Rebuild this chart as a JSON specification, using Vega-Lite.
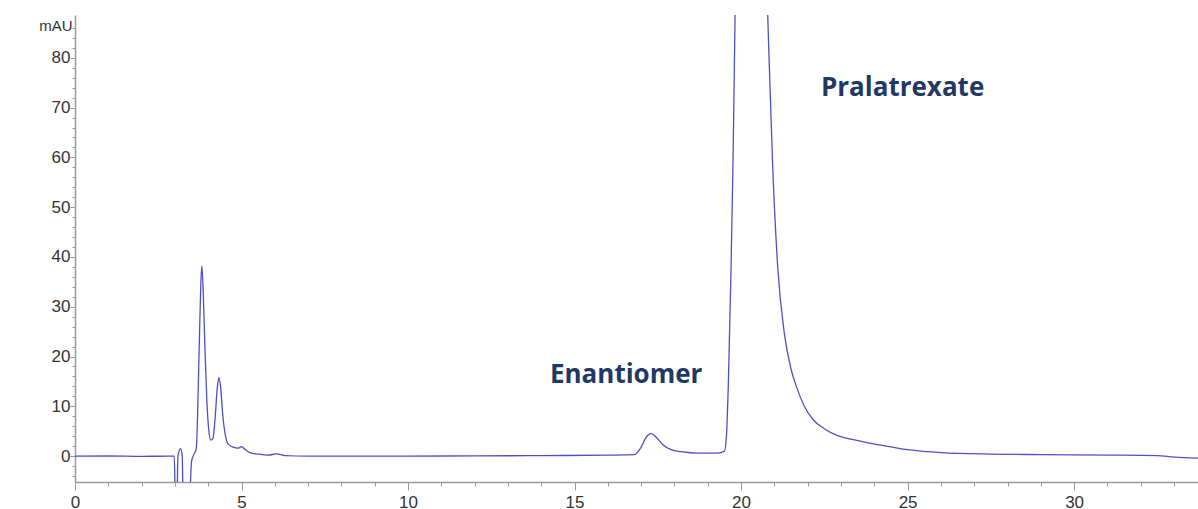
{
  "$schema": "https://vega.github.io/schema/vega-lite/v6.json",
  "width": 1123,
  "height": 467,
  "autosize": {"type": "none"},
  "padding": {"left": 75, "top": 15, "right": 0, "bottom": 27},
  "background": "white",
  "config": {"view": {"stroke": null}},
  "layer": [
    {
      "data": {"values": [
        {"t": 0, "v": 0}, {"t": 1, "v": 0.02}, {"t": 2, "v": -0.05}, {"t": 2.8, "v": 0}, {"t": 2.98, "v": 0},
        {"t": 3.02, "v": -10}, {"t": 3.06, "v": -10}, {"t": 3.09, "v": 0}, {"t": 3.17, "v": 1.5}, {"t": 3.22, "v": 0},
        {"t": 3.25, "v": -10}, {"t": 3.43, "v": -10}, {"t": 3.5, "v": -1}, {"t": 3.58, "v": 0.5}, {"t": 3.64, "v": 1.4},
        {"t": 3.68, "v": 8}, {"t": 3.73, "v": 22}, {"t": 3.78, "v": 35}, {"t": 3.81, "v": 38.2}, {"t": 3.85, "v": 33},
        {"t": 3.9, "v": 22}, {"t": 3.96, "v": 11}, {"t": 4.02, "v": 5}, {"t": 4.08, "v": 3.2}, {"t": 4.14, "v": 3.5},
        {"t": 4.2, "v": 7}, {"t": 4.27, "v": 13.5}, {"t": 4.32, "v": 15.8}, {"t": 4.37, "v": 14}, {"t": 4.44, "v": 8},
        {"t": 4.52, "v": 4}, {"t": 4.6, "v": 2.4}, {"t": 4.75, "v": 1.8}, {"t": 4.9, "v": 1.6}, {"t": 5.0, "v": 1.9},
        {"t": 5.08, "v": 1.5}, {"t": 5.25, "v": 0.7}, {"t": 5.5, "v": 0.4}, {"t": 5.8, "v": 0.2}, {"t": 6.05, "v": 0.45},
        {"t": 6.3, "v": 0.1}, {"t": 7, "v": 0}, {"t": 8, "v": 0}, {"t": 10, "v": 0}, {"t": 12, "v": 0.05},
        {"t": 14, "v": 0.1}, {"t": 16, "v": 0.2}, {"t": 16.8, "v": 0.3}, {"t": 17.0, "v": 1.8}, {"t": 17.15, "v": 3.8},
        {"t": 17.3, "v": 4.5}, {"t": 17.45, "v": 3.8}, {"t": 17.65, "v": 2.3}, {"t": 17.9, "v": 1.3}, {"t": 18.2, "v": 0.9},
        {"t": 18.7, "v": 0.6}, {"t": 19.3, "v": 0.6}, {"t": 19.5, "v": 1.0}, {"t": 19.56, "v": 4}, {"t": 19.62, "v": 15},
        {"t": 19.7, "v": 38}, {"t": 19.76, "v": 60}, {"t": 19.82, "v": 88.6}, {"t": 20.3, "v": 200}, {"t": 20.8, "v": 88.6},
        {"t": 20.95, "v": 58}, {"t": 21.1, "v": 38}, {"t": 21.3, "v": 24.6}, {"t": 21.5, "v": 17.5}, {"t": 21.66, "v": 14},
        {"t": 21.9, "v": 10}, {"t": 22.15, "v": 7.4}, {"t": 22.5, "v": 5.5}, {"t": 22.86, "v": 4.2}, {"t": 23.3, "v": 3.4},
        {"t": 24.2, "v": 2.2}, {"t": 25.0, "v": 1.3}, {"t": 26, "v": 0.7}, {"t": 27.5, "v": 0.4}, {"t": 29, "v": 0.3},
        {"t": 31, "v": 0.2}, {"t": 32.5, "v": 0.1}, {"t": 33, "v": -0.2}, {"t": 33.72, "v": -0.4}
      ]},
      "mark": {"type": "line", "interpolate": "monotone", "color": "#4f4fc4", "strokeWidth": 1.3, "clip": true},
      "encoding": {
        "x": {
          "field": "t", "type": "quantitative",
          "scale": {"domain": [0, 33.72], "nice": false, "zero": false},
          "axis": {
            "title": null, "grid": false, "tickCount": 200, "format": "d",
            "values": [0,1,2,3,4,5,6,7,8,9,10,11,12,13,14,15,16,17,18,19,20,21,22,23,24,25,26,27,28,29,30,31,32,33],
            "labelExpr": "datum.value % 5 === 0 ? datum.label : ''",
            "tickSize": {"condition": {"test": "datum.value % 5 === 0", "value": 8}, "value": 4},
            "domainColor": "#9a9a9a", "tickColor": "#9a9a9a", "domainWidth": 1.5,
            "labelFont": "Liberation Sans", "labelFontSize": 17, "labelColor": "#333333",
            "labelPadding": 4, "labelFlush": false, "labelOverlap": false
          }
        },
        "y": {
          "field": "v", "type": "quantitative",
          "scale": {"domain": [-5.2, 88.6], "nice": false, "zero": false},
          "axis": {
            "title": "mAU", "titleAngle": 0, "titleAlign": "right", "titleBaseline": "middle",
            "titleX": -3, "titleY": 10, "titleFont": "Liberation Sans", "titleFontSize": 15, "titleFontWeight": "normal", "titleColor": "#333333",
            "grid": false, "tickCount": 200, "format": "d",
            "values": [-4,-2,0,2,4,6,8,10,12,14,16,18,20,22,24,26,28,30,32,34,36,38,40,42,44,46,48,50,52,54,56,58,60,62,64,66,68,70,72,74,76,78,80,82,84,86],
            "labelExpr": "datum.value % 10 === 0 ? datum.label : ''",
            "tickSize": {"condition": {"test": "datum.value % 10 === 0", "value": 5}, "value": 3},
            "domainColor": "#9a9a9a", "tickColor": "#9a9a9a", "domainWidth": 1.5,
            "labelFont": "Liberation Sans", "labelFontSize": 17, "labelColor": "#333333",
            "labelPadding": 0, "labelOverlap": false
          }
        }
      }
    },
    {
      "data": {"values": [
        {"label": "Enantiomer", "t": 16.55, "v": 16.3},
        {"label": "Pralatrexate", "t": 24.85, "v": 74}
      ]},
      "mark": {"type": "text", "font": "Open Sans", "fontWeight": "bold", "fontSize": 26, "color": "#1f3864", "align": "center", "baseline": "middle"},
      "encoding": {
        "x": {"field": "t", "type": "quantitative"},
        "y": {"field": "v", "type": "quantitative"},
        "text": {"field": "label"}
      }
    }
  ]
}
